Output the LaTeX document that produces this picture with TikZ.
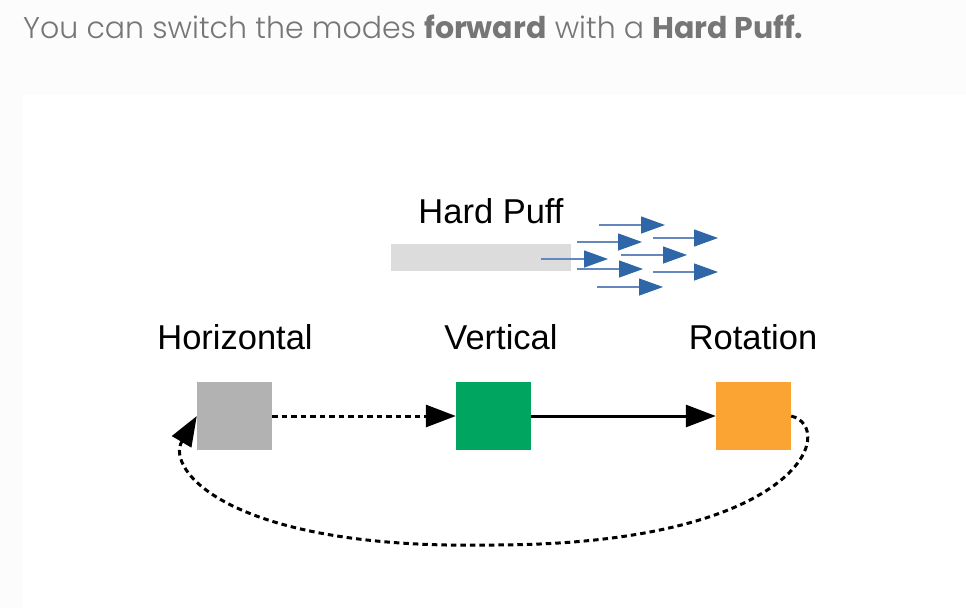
\documentclass[tikz,border=0pt]{standalone}
\usepackage{fontspec}
\setmainfont{Liberation Sans}
\newfontfamily\popfont{Poppins}[UprightFont={* Light}, BoldFont={* Bold}]
\usetikzlibrary{arrows.meta}
\definecolor{bgc}{RGB}{252,252,252}
\definecolor{titlegray}{RGB}{118,118,118}
\definecolor{boxgray}{RGB}{178,178,178}
\definecolor{boxgreen}{RGB}{0,166,95}
\definecolor{boxorange}{RGB}{251,164,51}
\definecolor{bargray}{RGB}{220,220,220}
\definecolor{puffline}{RGB}{100,135,190}
\definecolor{puffhead}{RGB}{46,102,168}
\tikzset{
  modebox/.style={draw=none, minimum width=75pt, minimum height=68pt, inner sep=0pt},
  lbl/.style={anchor=base, inner sep=0pt, font=\fontsize{34.5}{40}\selectfont},
  conn/.style={line width=3pt, -{Triangle[length=30pt,width=22pt]}},
  dashpat/.style={dash pattern=on 5.5pt off 4pt},
  puff/.style={line width=1.3pt, puffline, -{Triangle[length=24pt,width=17pt,color=puffhead]}}
}
\begin{document}
\begin{tikzpicture}[x=1pt,y=-1pt]
\fill[bgc] (0,0) rectangle (966,608);
\fill[white] (23,95) rectangle (966,608);
\useasboundingbox (0,0) rectangle (966,608);
\node[anchor=base west, text=titlegray, inner sep=0pt, font=\popfont\fontsize{30}{36}\selectfont] (title) at (23,38) {You can switch the modes \textbf{forward} with a \textbf{Hard Puff.}};
% bar and puff
\node[fill=bargray, minimum width=180pt, minimum height=27pt, inner sep=0pt] (bar) at (481,257.5) {};
\node[lbl] (hp) at (491,223) {Hard Puff};
\draw[puff] (599,225) -- (665,225);
\draw[puff] (577,242) -- (642,242);
\draw[puff] (653,238) -- (718,238);
\draw[puff] (541,259) -- (608,259);
\draw[puff] (621,255) -- (687,255);
\draw[puff] (577,269) -- (643,269);
\draw[puff] (653,272) -- (718,272);
\draw[puff] (597,287) -- (663,287);
% boxes
\node[modebox, fill=boxgray] (hor) at (234.5,416) {};
\node[modebox, fill=boxgreen] (ver) at (493.5,416) {};
\node[modebox, fill=boxorange] (rot) at (753.5,416) {};
\node[lbl] (lh) at (235,349) {Horizontal};
\node[lbl] (lv) at (501,349) {Vertical};
\node[lbl] (lr) at (753,349) {Rotation};
% connectors
\coordinate (bot) at (492,545);
\draw[conn, dashpat] (hor.east) -- (ver.west);
\draw[conn] (ver.east) -- (rot.west);
\draw[conn, dashpat] (rot.east) .. controls (838,428) and (800,545) .. (bot) .. controls (230,550) and (165,470) .. (hor.west);
\end{tikzpicture}
\end{document}
